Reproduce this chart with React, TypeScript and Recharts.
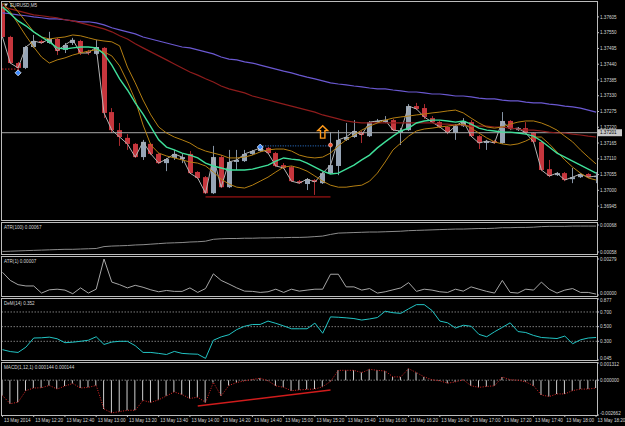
import React from 'react';
import { ComposedChart, Bar, Line, XAxis, YAxis, ReferenceLine, ReferenceDot } from 'recharts';

const FONT = '"Liberation Sans", Arial, sans-serif';
const TXT = '#d6d6d6';
const FRAME = '#bcbcbc';
const FS = 4.6;

const barTimes = [
  '12:00','12:05','12:10','12:15','12:20','12:25','12:30','12:35','12:40','12:45','12:50','12:55',
  '13:00','13:05','13:10','13:15','13:20','13:25','13:30','13:35','13:40','13:45','13:50','13:55',
  '14:00','14:05','14:10','14:15','14:20','14:25','14:30','14:35','14:40','14:45','14:50','14:55',
  '15:00','15:05','15:10','15:15','15:20','15:25','15:30','15:35','15:40','15:45','15:50','15:55',
  '16:00','16:05','16:10','16:15','16:20','16:25','16:30','16:35','16:40','16:45','16:50','16:55',
  '17:00','17:05','17:10','17:15','17:20','17:25','17:30','17:35','17:40','17:45','17:50','17:55',
  '18:00','18:05','18:10','18:15','18:20'
];

const opens = [
  1.37640,1.37535,1.37444,1.37427,1.37500,1.37521,1.37514,1.37528,1.37490,1.37514,
  1.37521,1.37483,1.37476,1.37497,1.37273,1.37210,1.37183,1.37162,1.37116,1.37162,
  1.37127,1.37095,1.37113,1.37109,1.37127,1.37064,1.37046,1.36990,1.37116,1.37011,
  1.37099,1.37102,1.37127,1.37137,1.37148,1.37130,1.37088,1.37081,1.37032,1.37022,
  1.37036,1.37025,1.37060,1.37085,1.37176,1.37186,1.37203,1.37189,1.37238,1.37238,
  1.37245,1.37200,1.37210,1.37294,1.37287,1.37252,1.37238,1.37221,1.37200,1.37224,
  1.37238,1.37189,1.37165,1.37172,1.37165,1.37242,1.37210,1.37217,1.37200,1.37169,
  1.37074,1.37053,1.37060,1.37039,1.37046,1.37057,1.37046
];
const highs = [
  1.37650,1.37539,1.37448,1.37504,1.37542,1.37525,1.37553,1.37532,1.37514,1.37532,
  1.37525,1.37490,1.37525,1.37500,1.37287,1.37235,1.37196,1.37165,1.37176,1.37165,
  1.37130,1.37113,1.37141,1.37127,1.37137,1.37067,1.37050,1.37155,1.37123,1.37141,
  1.37141,1.37141,1.37141,1.37155,1.37151,1.37134,1.37095,1.37085,1.37036,1.37043,
  1.37039,1.37064,1.37203,1.37210,1.37235,1.37245,1.37207,1.37242,1.37249,1.37259,
  1.37249,1.37217,1.37301,1.37305,1.37301,1.37259,1.37242,1.37224,1.37231,1.37252,
  1.37245,1.37193,1.37176,1.37176,1.37273,1.37245,1.37221,1.37238,1.37203,1.37172,
  1.37106,1.37064,1.37064,1.37078,1.37060,1.37060,1.37064
];
const lows = [
  1.37532,1.37441,1.37416,1.37423,1.37497,1.37511,1.37511,1.37472,1.37479,1.37507,
  1.37472,1.37472,1.37472,1.37252,1.37200,1.37155,1.37141,1.37113,1.37106,1.37123,
  1.37092,1.37067,1.37106,1.37095,1.37057,1.37039,1.36987,1.36987,1.37008,1.37008,
  1.37071,1.37099,1.37123,1.37134,1.37127,1.37081,1.37074,1.37029,1.37022,1.37001,
  1.36984,1.37022,1.37057,1.37053,1.37172,1.37183,1.37165,1.37186,1.37235,1.37235,
  1.37207,1.37158,1.37207,1.37280,1.37249,1.37235,1.37217,1.37196,1.37176,1.37221,
  1.37186,1.37144,1.37141,1.37162,1.37162,1.37210,1.37207,1.37196,1.37165,1.37067,
  1.37046,1.37050,1.37032,1.37025,1.37043,1.37043,1.37025
];
const closes = [
  1.37535,1.37444,1.37427,1.37500,1.37521,1.37514,1.37528,1.37486,1.37507,1.37525,
  1.37479,1.37479,1.37500,1.37270,1.37210,1.37186,1.37162,1.37116,1.37169,1.37127,
  1.37095,1.37109,1.37127,1.37116,1.37060,1.37043,1.36990,1.37116,1.37011,1.37099,
  1.37106,1.37127,1.37137,1.37148,1.37130,1.37085,1.37078,1.37032,1.37025,1.37039,
  1.37029,1.37060,1.37088,1.37176,1.37186,1.37207,1.37193,1.37238,1.37242,1.37245,
  1.37210,1.37207,1.37294,1.37284,1.37256,1.37238,1.37221,1.37200,1.37224,1.37242,
  1.37189,1.37165,1.37172,1.37165,1.37242,1.37214,1.37217,1.37200,1.37169,1.37071,
  1.37050,1.37060,1.37036,1.37046,1.37057,1.37046,1.37050
];

const fastMa = [
  1.37640,1.37616,1.37591,1.37574,1.37553,1.37535,1.37518,1.37497,1.37493,1.37497,
  1.37500,1.37500,1.37497,1.37476,1.37437,1.37389,1.37350,1.37305,1.37266,1.37221,
  1.37176,1.37151,1.37141,1.37130,1.37123,1.37113,1.37095,1.37085,1.37078,1.37071,
  1.37071,1.37071,1.37074,1.37081,1.37088,1.37102,1.37113,1.37109,1.37106,1.37095,
  1.37081,1.37067,1.37057,1.37060,1.37074,1.37088,1.37106,1.37123,1.37148,1.37169,
  1.37189,1.37207,1.37217,1.37235,1.37242,1.37245,1.37245,1.37242,1.37238,1.37242,
  1.37231,1.37217,1.37210,1.37207,1.37203,1.37203,1.37200,1.37196,1.37189,1.37172,
  1.37151,1.37130,1.37116,1.37102,1.37088,1.37074,1.37060
];
const upperBand = [
  1.37675,1.37654,1.37623,1.37588,1.37553,1.37535,1.37528,1.37532,1.37535,1.37542,
  1.37539,1.37532,1.37525,1.37521,1.37518,1.37504,1.37430,1.37375,1.37315,1.37263,
  1.37221,1.37200,1.37186,1.37176,1.37165,1.37148,1.37137,1.37130,1.37123,1.37113,
  1.37113,1.37116,1.37123,1.37134,1.37141,1.37144,1.37144,1.37137,1.37123,1.37116,
  1.37113,1.37116,1.37130,1.37155,1.37176,1.37193,1.37210,1.37224,1.37235,1.37245,
  1.37252,1.37256,1.37259,1.37263,1.37266,1.37270,1.37273,1.37277,1.37280,1.37270,
  1.37252,1.37235,1.37221,1.37217,1.37221,1.37231,1.37238,1.37242,1.37242,1.37235,
  1.37224,1.37210,1.37189,1.37169,1.37141,1.37116,1.37092
];
const lowerBand = [
  1.37654,1.37623,1.37581,1.37539,1.37500,1.37465,1.37444,1.37455,1.37462,1.37472,
  1.37479,1.37486,1.37490,1.37483,1.37469,1.37434,1.37378,1.37315,1.37228,1.37158,
  1.37130,1.37120,1.37113,1.37106,1.37099,1.37095,1.37085,1.37064,1.37039,1.37022,
  1.37011,1.37008,1.37018,1.37032,1.37046,1.37064,1.37081,1.37085,1.37078,1.37067,
  1.37050,1.37032,1.37018,1.37011,1.37011,1.37015,1.37018,1.37032,1.37060,1.37099,
  1.37141,1.37165,1.37189,1.37207,1.37214,1.37217,1.37221,1.37224,1.37228,1.37231,
  1.37217,1.37200,1.37183,1.37169,1.37162,1.37158,1.37162,1.37172,1.37186,1.37186,
  1.37162,1.37134,1.37106,1.37081,1.37060,1.37043,1.37036
];
const slowMaRed = [
  1.37640,1.37633,1.37626,1.37619,1.37612,1.37609,1.37605,1.37602,1.37595,1.37591,
  1.37584,1.37577,1.37570,1.37563,1.37553,1.37539,1.37528,1.37511,1.37497,1.37483,
  1.37469,1.37455,1.37441,1.37427,1.37413,1.37402,1.37389,1.37378,1.37364,1.37354,
  1.37347,1.37340,1.37329,1.37322,1.37315,1.37308,1.37301,1.37294,1.37287,1.37280,
  1.37273,1.37263,1.37256,1.37249,1.37242,1.37238,1.37235,1.37235,1.37235,1.37235,
  1.37235,1.37235,1.37235,1.37235,1.37235,1.37235,1.37231,1.37231,1.37228,1.37228,
  1.37224,1.37224,1.37224,1.37221,1.37221,1.37217,1.37214,1.37210,1.37210,1.37207,
  1.37203,1.37200,1.37200,1.37196,1.37193,1.37189,1.37186
];
const slowMaBlue = [
  1.37619,1.37616,1.37612,1.37609,1.37605,1.37602,1.37598,1.37598,1.37595,1.37591,
  1.37588,1.37588,1.37584,1.37577,1.37567,1.37560,1.37553,1.37546,1.37535,1.37528,
  1.37521,1.37514,1.37507,1.37500,1.37497,1.37490,1.37483,1.37476,1.37465,1.37458,
  1.37455,1.37448,1.37444,1.37437,1.37430,1.37423,1.37416,1.37410,1.37402,1.37395,
  1.37389,1.37382,1.37375,1.37371,1.37368,1.37364,1.37361,1.37357,1.37354,1.37354,
  1.37350,1.37347,1.37343,1.37343,1.37340,1.37336,1.37336,1.37333,1.37329,1.37329,
  1.37326,1.37322,1.37319,1.37319,1.37315,1.37312,1.37312,1.37308,1.37305,1.37305,
  1.37301,1.37298,1.37294,1.37291,1.37287,1.37280,1.37273
];

const atr100 = [
  0.000582,0.000583,0.000584,0.000585,0.000586,0.000587,0.000588,0.000589,0.000590,0.000590,
  0.000591,0.000592,0.000593,0.000600,0.000602,0.000603,0.000604,0.000606,0.000607,0.000609,
  0.000611,0.000613,0.000614,0.000615,0.000617,0.000618,0.000620,0.000627,0.000629,0.000630,
  0.000630,0.000631,0.000631,0.000632,0.000632,0.000633,0.000633,0.000634,0.000634,0.000635,
  0.000637,0.000639,0.000645,0.000650,0.000651,0.000652,0.000653,0.000654,0.000654,0.000655,
  0.000656,0.000657,0.000659,0.000660,0.000661,0.000662,0.000663,0.000664,0.000665,0.000665,
  0.000666,0.000667,0.000667,0.000668,0.000670,0.000670,0.000671,0.000671,0.000672,0.000674,
  0.000675,0.000675,0.000675,0.000676,0.000676,0.000676,0.000676
];
const atr1 = [
  0.00176,0.00113,0.00080,0.00070,0.00070,0.00015,0.00040,0.00045,0.00038,0.00010,
  0.00055,0.00015,0.00045,0.00279,0.00100,0.00080,0.00055,0.00075,0.00060,0.00040,
  0.00025,0.00035,0.00028,0.00028,0.00055,0.00020,0.00050,0.00164,0.00113,0.00085,
  0.00055,0.00030,0.00028,0.00020,0.00025,0.00045,0.00020,0.00045,0.00030,0.00038,
  0.00045,0.00045,0.00161,0.00161,0.00063,0.00063,0.00038,0.00050,0.00015,0.00025,
  0.00040,0.00055,0.00096,0.00028,0.00045,0.00038,0.00025,0.00020,0.00045,0.00030,
  0.00063,0.00045,0.00028,0.00015,0.00113,0.00020,0.00015,0.00045,0.00038,0.00100,
  0.00045,0.00015,0.00038,0.00050,0.00020,0.00020,0.00007
];
const demarker = [
  0.186,0.160,0.148,0.220,0.345,0.348,0.357,0.335,0.281,0.288,
  0.300,0.315,0.362,0.257,0.290,0.300,0.300,0.240,0.148,0.148,
  0.135,0.120,0.162,0.135,0.128,0.124,0.067,0.314,0.360,0.390,
  0.460,0.505,0.529,0.530,0.576,0.545,0.510,0.471,0.471,0.471,
  0.548,0.410,0.633,0.628,0.620,0.610,0.590,0.605,0.624,0.710,
  0.690,0.681,0.743,0.800,0.800,0.720,0.576,0.552,0.481,0.519,
  0.505,0.395,0.362,0.430,0.490,0.552,0.433,0.420,0.380,0.352,
  0.345,0.338,0.371,0.267,0.320,0.345,0.352
];
const macd = [
  -0.00118,-0.00180,-0.00168,-0.00080,-0.00060,-0.00058,-0.00040,-0.00068,-0.00045,-0.00025,
  -0.00060,-0.00055,-0.00040,-0.00220,-0.00250,-0.00240,-0.00230,-0.00230,-0.00155,-0.00170,
  -0.00150,-0.00120,-0.00090,-0.00110,-0.00140,-0.00130,-0.00170,-0.00018,-0.00120,-0.00040,
  -0.00018,-0.00005,0.00005,0.00015,-0.00005,-0.00043,-0.00055,-0.00080,-0.00075,-0.00070,
  -0.00068,-0.00050,-0.00010,0.00075,0.00075,0.00075,0.00058,0.00083,0.00075,0.00070,
  0.00025,0.00025,0.00088,0.00058,0.00025,0.00003,-0.00005,-0.00023,-0.00013,0.00003,
  -0.00043,-0.00055,-0.00048,-0.00043,0.00025,0.00003,0.00000,-0.00013,-0.00043,-0.00113,
  -0.00125,-0.00105,-0.00105,-0.00080,-0.00068,-0.00068,-0.00060
];

const timeTickIdx = [0,4,8,12,16,20,24,28,32,36,40,44,48,52,56,60,64,68,72,76];
const timeLabels = [
  '13 May 2014','13 May 12:20','13 May 12:40','13 May 13:00','13 May 13:20','13 May 13:40',
  '13 May 14:00','13 May 14:20','13 May 14:40','13 May 15:00','13 May 15:20','13 May 15:40',
  '13 May 16:00','13 May 16:20','13 May 16:40','13 May 17:00','13 May 17:20','13 May 17:40',
  '13 May 18:00','13 May 18:20'
];
const priceTicks = [1.37605,1.37550,1.37495,1.37440,1.37385,1.37330,1.37275,1.37220,1.37165,1.37110,1.37055,1.37000,1.36945];
const atr100Ticks = [0.00068, 0.00058];
const atr1Ticks = [0.00279, 0];
const demTicks = [0.877, 0.7, 0.5, 0.3, 0.045];
const demLevels = [0.7, 0.5, 0.3];
const macdTicks = [0.001312, 0, -0.002662];

const bidLevel = 1.37201;
const supportLevel = 1.36977;
const pendingLevel = 1.37155;
const stopLevel = 1.37423;

const data = barTimes.map((t, i) => ({
  i, t,
  o: opens[i], h: highs[i], l: lows[i], c: closes[i],
  fast: fastMa[i], up: upperBand[i], lo: lowerBand[i], red: slowMaRed[i], blue: slowMaBlue[i],
  a100: atr100[i], a1: atr1[i], dem: demarker[i], m: macd[i],
}));

const X_DOMAIN = [-0.06, 76.12];
const PRICE_DOMAIN = [1.36900, 1.37657];
const MARGIN_X = { left: 2, right: 0 };

// Right-axis tick text; labels at the very top / bottom of a panel are nudged inward.
function AxisTick(props: any) {
  const { x, y, payload, digits, top, bottom } = props;
  const v = payload.value;
  let dy = 1.6;
  if (top != null && Math.abs(v - top) < 1e-9) dy += 1.6;
  if (bottom != null && Math.abs(v - bottom) < 1e-9) dy -= 1.6;
  return (
    <text x={x} y={y + dy} fill={TXT} fontSize={FS} fontFamily={FONT} textAnchor="start">
      {v.toFixed(digits)}
    </text>
  );
}

function Candle(props: any) {
  const { x, y, width, height, payload } = props;
  if (!payload || x == null) return null;
  const top = Math.min(y, y + height);
  const hh = Math.abs(height);
  const span = payload.h - payload.l || 1e-9;
  const py = (v: number) => top + ((payload.h - v) / span) * hh;
  const bull = payload.c >= payload.o;
  const cx = Math.round(x + width / 2) + 0.5;
  const bt = py(Math.max(payload.o, payload.c));
  const bb = py(Math.min(payload.o, payload.c));
  return (
    <g>
      <line x1={cx} x2={cx} y1={top} y2={top + hh} stroke={bull ? '#8593a4' : '#a82a2e'} strokeWidth={1} />
      <rect x={cx - 2.5} y={bt} width={5} height={Math.max(1, bb - bt)} fill={bull ? '#97a5b6' : '#c6363d'} />
    </g>
  );
}

function BidLabel(props: any) {
  const vb = props.viewBox || {};
  const x = (vb.x || 0) + (vb.width || 0) + 1;
  const y = vb.y || 0;
  return (
    <g>
      <rect x={x} y={y - 3.5} width={24} height={7} fill="#c8c8c8" />
      <text x={x + 2} y={y + 1.7} fontSize={FS} fontFamily={FONT} fill="#000">{bidLevel.toFixed(5)}</text>
    </g>
  );
}

function Diamond(props: any) {
  const { cx, cy } = props;
  if (cx == null) return null;
  return (
    <polygon points={`${cx},${cy - 3} ${cx + 3},${cy} ${cx},${cy + 3} ${cx - 3},${cy}`} fill="#3d8bff" stroke="#e8f0ff" strokeWidth={0.8} />
  );
}

function RedDot(props: any) {
  const { cx, cy } = props;
  if (cx == null) return null;
  return <circle cx={cx} cy={cy} r={2} fill="#ff5030" stroke="#ffd0c0" strokeWidth={0.6} />;
}

function UpArrow(props: any) {
  const { cx, cy } = props;
  if (cx == null) return null;
  const pts = [
    [cx, cy - 6.5], [cx + 5, cy - 1.5], [cx + 2.2, cy - 1.5], [cx + 2.2, cy + 6],
    [cx - 2.2, cy + 6], [cx - 2.2, cy - 1.5], [cx - 5, cy - 1.5],
  ].map((p) => p.join(',')).join(' ');
  return <polygon points={pts} fill="none" stroke="#ff9a1a" strokeWidth={1.4} />;
}

function TimeTick(props: any) {
  const { x, y, payload } = props;
  const k = timeTickIdx.indexOf(payload.value);
  return (
    <text x={x + 1.5} y={y + 3.5} fill={TXT} fontSize={FS} fontFamily={FONT} textAnchor="start">
      {k >= 0 ? timeLabels[k] : ''}
    </text>
  );
}

const lineProps = { dot: false, activeDot: false, isAnimationActive: false, type: 'linear' as const };
const axisCommon = { orientation: 'right' as const, width: 28, allowDataOverflow: true, interval: 0, tickSize: 2, tickMargin: 1, tickLine: { stroke: FRAME }, axisLine: false };

export default function App() {
  return (
    <div style={{ position: 'absolute', left: 0, top: 0, width: 625, height: 426, background: '#000', overflow: 'hidden' }}>
      {/* Main price panel */}
      <div style={{ position: 'absolute', left: 0, top: 0 }}>
        <ComposedChart width={625} height={221} data={data} margin={{ top: 2, bottom: 2, ...MARGIN_X }}>
          <XAxis type="number" dataKey="i" domain={X_DOMAIN} allowDataOverflow hide />
          <YAxis {...axisCommon} domain={PRICE_DOMAIN} ticks={priceTicks} tick={<AxisTick digits={5} />} />
          <ReferenceLine y={bidLevel} stroke="#a8a8a8" strokeWidth={1} label={<BidLabel />} />
          <Bar dataKey={(d: any) => [d.l, d.h]} barSize={5} shape={<Candle />} isAnimationActive={false} />
          <Line dataKey="c" stroke="#b4b4b4" strokeWidth={1} {...lineProps} />
          <Line dataKey="blue" stroke="#6a58d0" strokeWidth={1.2} {...lineProps} />
          <Line dataKey="red" stroke="#8e1c1c" strokeWidth={1.2} {...lineProps} />
          <Line dataKey="up" stroke="#b47f12" strokeWidth={1} {...lineProps} />
          <Line dataKey="lo" stroke="#b47f12" strokeWidth={1} {...lineProps} />
          <Line dataKey="fast" stroke="#3fe09a" strokeWidth={1.4} {...lineProps} />
          <ReferenceLine segment={[{ x: 26, y: supportLevel }, { x: 42, y: supportLevel }]} stroke="#c01818" strokeWidth={1} />
          <ReferenceLine segment={[{ x: 33, y: pendingLevel }, { x: 42, y: pendingLevel }]} stroke="#2f7fe0" strokeWidth={1} strokeDasharray="1 1.5" />
          <ReferenceLine segment={[{ x: -0.06, y: stopLevel }, { x: 2, y: stopLevel }]} stroke="#d02020" strokeWidth={1} strokeDasharray="1.5 1.5" />
          <ReferenceDot x={2} y={1.37410} r={3} shape={<Diamond />} />
          <ReferenceDot x={33} y={1.37151} r={3} shape={<Diamond />} />
          <ReferenceDot x={42} y={1.37158} r={2} shape={<RedDot />} />
          <ReferenceDot x={41} y={1.37203} r={5} shape={<UpArrow />} />
        </ComposedChart>
      </div>

      {/* ATR(100) */}
      <div style={{ position: 'absolute', left: 0, top: 222 }}>
        <ComposedChart width={625} height={33} data={data} margin={{ top: 3, bottom: 3, ...MARGIN_X }}>
          <XAxis type="number" dataKey="i" domain={X_DOMAIN} allowDataOverflow hide />
          <YAxis {...axisCommon} domain={[0.00058, 0.00068]} ticks={atr100Ticks} tick={<AxisTick digits={5} />} />
          <Line dataKey="a100" stroke="#8c8c8c" strokeWidth={1} {...lineProps} />
        </ComposedChart>
      </div>

      {/* ATR(1) */}
      <div style={{ position: 'absolute', left: 0, top: 256 }}>
        <ComposedChart width={625} height={41} data={data} margin={{ top: 3, bottom: 2, ...MARGIN_X }}>
          <XAxis type="number" dataKey="i" domain={X_DOMAIN} allowDataOverflow hide />
          <YAxis {...axisCommon} domain={[0, 0.00279]} ticks={atr1Ticks} tick={<AxisTick digits={5} bottom={0} />} />
          <Line dataKey="a1" stroke="#a6a6a6" strokeWidth={1} {...lineProps} />
        </ComposedChart>
      </div>

      {/* DeMarker */}
      <div style={{ position: 'absolute', left: 0, top: 298 }}>
        <ComposedChart width={625} height={63} data={data} margin={{ top: 1, bottom: 1, ...MARGIN_X }}>
          <XAxis type="number" dataKey="i" domain={X_DOMAIN} allowDataOverflow hide />
          <YAxis {...axisCommon} domain={[0.045, 0.877]} ticks={demTicks} tick={<AxisTick digits={3} top={0.877} bottom={0.045} />} />
          {demLevels.map((lv) => (
            <ReferenceLine key={lv} y={lv} stroke="#9a9a9a" strokeDasharray="1.5 1.5" strokeWidth={0.8} />
          ))}
          <Line dataKey="dem" stroke="#22c4c4" strokeWidth={1} {...lineProps} />
        </ComposedChart>
      </div>

      {/* MACD */}
      <div style={{ position: 'absolute', left: 0, top: 362 }}>
        <ComposedChart width={625} height={64} data={data} margin={{ top: 1, bottom: 0, ...MARGIN_X }}>
          <XAxis type="number" dataKey="i" domain={X_DOMAIN} allowDataOverflow ticks={timeTickIdx} interval={0}
            height={11} tick={<TimeTick />} tickSize={2} tickMargin={1} tickLine={{ stroke: FRAME }} axisLine={false} />
          <YAxis {...axisCommon} domain={[-0.002662, 0.001312]} ticks={macdTicks} tick={<AxisTick digits={6} top={0.001312} bottom={-0.002662} />} />
          <ReferenceLine y={0} stroke="#9a9a9a" strokeDasharray="1.5 1.5" strokeWidth={0.8} />
          <Bar dataKey="m" barSize={1} fill="#d0d0d0" isAnimationActive={false} />
          <Line dataKey="m" stroke="#e02828" strokeWidth={1} strokeDasharray="1 1.5" {...lineProps} />
          <ReferenceLine segment={[{ x: 25, y: -0.00198 }, { x: 42, y: -0.00075 }]} stroke="#d01c1c" strokeWidth={1.5} />
        </ComposedChart>
      </div>

      {/* Frames and panel captions */}
      <svg width={625} height={426} style={{ position: 'absolute', left: 0, top: 0, pointerEvents: 'none' }}>
        <g fill="none" stroke={FRAME} strokeWidth={1}>
          <rect x={1.5} y={1.5} width={596} height={219} />
          <rect x={1.5} y={222.5} width={596} height={32} />
          <rect x={1.5} y={256.5} width={596} height={40} />
          <rect x={1.5} y={298.5} width={596} height={62} />
          <rect x={1.5} y={362.5} width={596} height={53} />
        </g>
        <g fontFamily={FONT} fontSize={FS} fill={TXT}>
          <polygon points="4,3.5 8,3.5 6,6.5" fill={TXT} />
          <text x={10} y={7}>EURUSD,M5</text>
          <text x={4} y={229}>ATR(100) 0.00067</text>
          <text x={4} y={263}>ATR(1) 0.00007</text>
          <text x={4} y={305}>DeM(14) 0.352</text>
          <text x={4} y={369}>MACD(1,12,1) 0.000144 0.000144</text>
        </g>
      </svg>
    </div>
  );
}
